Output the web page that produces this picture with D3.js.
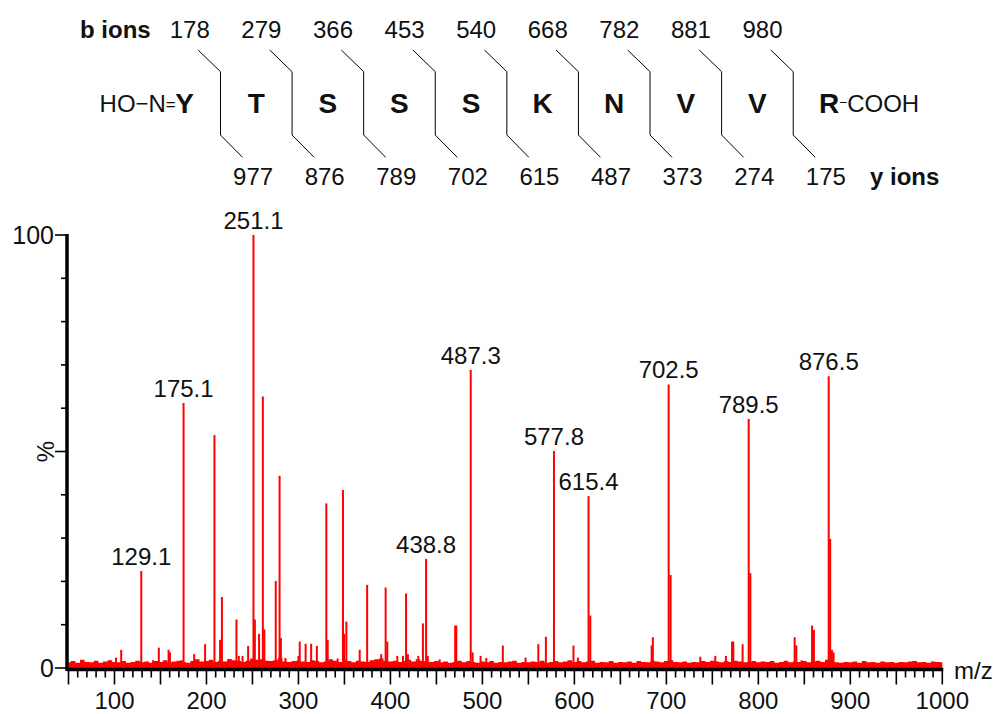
<!DOCTYPE html>
<html>
<head>
<meta charset="utf-8">
<script src="https://cdn.jsdelivr.net/npm/d3@7"></script>
<style>
  html, body { margin: 0; padding: 0; background: #fff; }
  svg { display: block; font-family: "Liberation Sans", Arial, sans-serif; }
</style>
</head>
<body>
<svg id="chart" width="995" height="714"></svg>
<script>
// Peptide sequence and fragment ion masses
const residues = ["Y", "T", "S", "S", "S", "K", "N", "V", "V", "R"];
const bIons = [178, 279, 366, 453, 540, 668, 782, 881, 980];
const yIons = [977, 876, 789, 702, 615, 487, 373, 274, 175];

// MS/MS spectrum: centroid m/z and relative intensity (%)
const peakMz = [
  101.7, 107.3, 129.1, 142.0, 148.2, 158.8, 160.3, 173.0, 175.1, 186.6,
  198.5, 208.7, 214.8, 216.8, 232.6, 235.2, 239.2, 245.3, 251.1, 252.6,
  257.2, 261.3, 262.9, 275.3, 279.5, 280.9, 285.9, 300.0, 301.4, 307.8,
  313.8, 320.0, 330.3, 331.8, 342.6, 348.4, 349.6, 352.1, 366.6, 374.7,
  390.0, 394.8, 396.6, 407.5, 413.6, 417.0, 419.0, 430.3, 435.3, 438.8,
  440.6, 453.5, 470.4, 471.6, 487.3, 489.4, 498.0, 504.2, 522.2, 546.9,
  560.8, 569.0, 577.8, 599.0, 603.8, 615.4, 617.3, 684.0, 685.3, 702.5,
  704.6, 736.9, 753.2, 764.8, 771.4, 772.8, 782.9, 789.5, 791.3, 839.5,
  841.3, 847.0, 858.4, 860.4, 876.5, 878.1, 880.0, 881.8
];
const peakInt = [
  2.4, 4.2, 22.4, 1.8, 4.7, 4.2, 3.6, 1.8, 61.2, 3.2,
  5.5, 53.8, 6.5, 16.4, 11.2, 2.8, 2.8, 5.1, 100, 11.2,
  7.9, 62.7, 8.9, 20.1, 44.4, 6.9, 2.3, 2.8, 6.1, 5.6,
  5.6, 5.1, 38.0, 6.5, 2.2, 41.1, 7.9, 10.7, 4.2, 19.2,
  3.2, 18.6, 6.1, 2.8, 2.8, 17.2, 3.2, 2.8, 10.3, 25.2,
  2.8, 2.0, 9.8, 9.8, 68.8, 3.6, 2.8, 2.3, 5.2, 2.4,
  5.5, 7.2, 50.1, 5.2, 2.4, 39.7, 12.1, 5.2, 7.1, 65.5,
  21.5, 2.6, 2.8, 2.8, 6.1, 6.1, 5.5, 57.5, 21.9, 7.1,
  5.2, 1.8, 9.8, 8.8, 67.4, 29.8, 4.2, 3.6
];
// Annotated peaks
const labelMz = [129.1, 175.1, 251.1, 438.8, 487.3, 577.8, 615.4, 702.5, 789.5, 876.5];

// Chemical noise floor, m/z 50 to 1000 in steps of 5
const noiseStart = 50, noiseStep = 5;
const noiseInt = [
  1.3,1.6,1.2,1.9,1.4,1.3,1.7,1.2,1.5,1.8,
  1.4,1.3,1.6,1.2,1.4,1.7,1.3,1.5,1.2,1.6,
  1.4,1.8,1.3,1.5,1.7,1.4,1.2,1.6,2.0,1.5,
  1.6,1.9,1.4,1.7,1.5,2.1,1.8,1.6,1.4,1.7,
  2.2,1.9,2.0,1.7,1.6,1.8,2.3,1.5,1.4,1.6,
  1.7,1.5,1.4,1.8,1.6,1.3,1.5,2.0,1.7,1.4,
  1.9,1.6,1.3,1.7,1.5,1.4,1.8,2.0,2.2,1.6,
  1.5,1.7,1.4,1.6,1.9,1.5,2.0,1.6,1.3,1.4,
  1.6,1.3,1.5,1.2,1.4,1.7,1.3,1.6,1.4,1.2,
  1.5,1.3,1.6,1.2,1.4,1.3,1.5,1.7,1.2,1.4,
  1.3,1.5,1.4,1.7,1.2,1.4,1.6,1.3,1.5,1.8,
  1.4,1.6,1.3,1.5,1.7,1.2,1.4,1.3,1.6,1.2,
  1.4,1.3,1.5,1.2,1.6,1.4,1.3,1.7,1.5,1.3,
  1.6,1.8,1.4,1.3,1.5,1.2,1.4,1.3,1.6,1.4,
  1.7,1.5,1.3,1.6,1.4,1.7,1.5,1.3,1.4,1.6,
  1.3,1.5,1.4,1.6,1.2,1.4,1.7,1.3,1.5,1.4,
  1.6,1.3,1.5,1.7,1.4,1.9,1.6,1.3,1.2,1.4,
  1.3,1.5,1.2,1.6,1.3,1.4,1.2,1.5,1.3,1.4,
  1.2,1.4,1.3,1.5,1.6,1.3,1.4,1.2,1.5,1.4,
  1.3
];

const xTickLabels = [100, 200, 300, 400, 500, 600, 700, 800, 900, 1000];
const yTickLabels = [0, 100];

const svg = d3.select("#chart");
const RED = "#ff0000";
const INK = "#111";

// ---------- sequence / fragment map ----------
const seqX = d3.scaleLinear().domain([0, residues.length - 1]).range([184.7, 829]);
const seq = svg.append("g");

seq.append("text").attr("x", 80).attr("y", 37.5)
  .attr("font-size", 24).attr("font-weight", "bold").attr("fill", INK).text("b ions");
seq.append("text").attr("x", 870).attr("y", 184.5)
  .attr("font-size", 24).attr("font-weight", "bold").attr("fill", INK).text("y ions");

residues.forEach((r, i) => {
  seq.append("text").attr("x", seqX(i)).attr("y", 113.3)
    .attr("text-anchor", "middle").attr("font-size", 28).attr("font-weight", "bold")
    .attr("fill", INK).text(r);
});

// N-terminal oxime group
const nTerm = seq.append("text").attr("x", seqX(0) - 9).attr("y", 112)
  .attr("text-anchor", "end").attr("font-size", 24).attr("fill", INK);
nTerm.append("tspan").text("HO");
nTerm.append("tspan").attr("font-size", 22).attr("dy", -1).text("\u2212");
nTerm.append("tspan").attr("dy", 1).text("N");
nTerm.append("tspan").attr("font-size", 17).attr("dy", -2).text("=");

// C-terminal carboxyl
const cTerm = seq.append("text").attr("x", seqX(residues.length - 1) + 10).attr("y", 112)
  .attr("font-size", 24).attr("fill", INK);
cTerm.append("tspan").attr("font-size", 14).attr("dy", -5).text("\u2212");
cTerm.append("tspan").attr("dy", 5).text("COOH");

const cleave = d3.range(bIons.length).map(i => seqX(i + 0.5));
seq.selectAll("path.frag").data(cleave).join("path")
  .attr("class", "frag")
  .attr("fill", "none").attr("stroke", "#000").attr("stroke-width", 1)
  .attr("d", cx => `M${cx - 22.4},50L${cx},71.7L${cx},135L${cx + 22},157.3`);

seq.selectAll("text.b").data(bIons).join("text")
  .attr("class", "b")
  .attr("x", (d, i) => cleave[i] - 30.7).attr("y", 37.5)
  .attr("text-anchor", "middle").attr("font-size", 24).attr("fill", INK)
  .text(d => d);
seq.selectAll("text.y").data(yIons).join("text")
  .attr("class", "y")
  .attr("x", (d, i) => cleave[i] + 32.6).attr("y", 185)
  .attr("text-anchor", "middle").attr("font-size", 24).attr("fill", INK)
  .text(d => d);

// ---------- spectrum ----------
const x = d3.scaleLinear().domain([50, 1000]).range([68.5, 942.3]);
const y = d3.scaleLinear().domain([0, 100]).range([668, 235]);

const plot = svg.append("g");

// noise floor
const noise = noiseInt.map((v, i) => [noiseStart + i * noiseStep, v]);
plot.append("path")
  .datum(noise)
  .attr("fill", RED)
  .attr("d", d3.area().curve(d3.curveStep)
    .x(d => x(d[0])).y0(y(0)).y1(d => y(d[1])));

// peaks
const peaks = peakMz.map((m, i) => ({ mz: m, it: peakInt[i] }));
plot.selectAll("line.pk").data(peaks).join("line")
  .attr("class", "pk")
  .attr("x1", d => x(d.mz)).attr("x2", d => x(d.mz))
  .attr("y1", y(0)).attr("y2", d => y(d.it))
  .attr("stroke", RED).attr("stroke-width", 2);

// peak annotations
const labelled = peaks.filter(p => labelMz.includes(p.mz));
plot.selectAll("text.pl").data(labelled).join("text")
  .attr("class", "pl")
  .attr("x", d => x(d.mz)).attr("y", d => y(d.it) - 6)
  .attr("text-anchor", "middle").attr("font-size", 24).attr("fill", INK)
  .text(d => d.mz.toFixed(1));

// x axis
const xAxisG = plot.append("g").attr("transform", `translate(0,${y(0) + 1.5})`);
const minorX = d3.range(50, 1001, 10);
xAxisG.selectAll("line.t").data(minorX).join("line")
  .attr("class", "t")
  .attr("x1", d => x(d)).attr("x2", d => x(d))
  .attr("y1", 0).attr("y2", d => d % 50 === 0 ? 15 : 8)
  .attr("stroke", "#000").attr("stroke-width", 1.6);
xAxisG.append("line")
  .attr("x1", x(50) - 1.5).attr("x2", x(1000) + 1)
  .attr("y1", 0).attr("y2", 0)
  .attr("stroke", "#000").attr("stroke-width", 3.5);
xAxisG.selectAll("text").data(xTickLabels).join("text")
  .attr("x", d => x(d)).attr("y", 39)
  .attr("text-anchor", "middle").attr("font-size", 24).attr("fill", INK)
  .text(d => d);
xAxisG.append("text").attr("x", 954).attr("y", 9)
  .attr("font-size", 24).attr("fill", INK).text("m/z");

// y axis
const yAxisG = plot.append("g").attr("transform", `translate(${x(50) - 1.5},0)`);
yAxisG.selectAll("line.t").data(d3.range(0, 101, 10)).join("line")
  .attr("class", "t")
  .attr("x1", d => d % 50 === 0 ? -12 : -6).attr("x2", 0)
  .attr("y1", d => y(d)).attr("y2", d => y(d))
  .attr("stroke", "#000").attr("stroke-width", 1.6);
yAxisG.append("line")
  .attr("x1", 0).attr("x2", 0)
  .attr("y1", y(100) - 1).attr("y2", y(0) + 3)
  .attr("stroke", "#000").attr("stroke-width", 3.5);
yAxisG.selectAll("text").data(yTickLabels).join("text")
  .attr("x", -13).attr("y", d => y(d) + 9)
  .attr("text-anchor", "end").attr("font-size", 25).attr("fill", INK)
  .text(d => d);
yAxisG.append("text")
  .attr("transform", `translate(-13,${y(50)}) rotate(-90)`)
  .attr("text-anchor", "middle").attr("font-size", 24).attr("fill", INK)
  .text("%");
</script>
</body>
</html>
